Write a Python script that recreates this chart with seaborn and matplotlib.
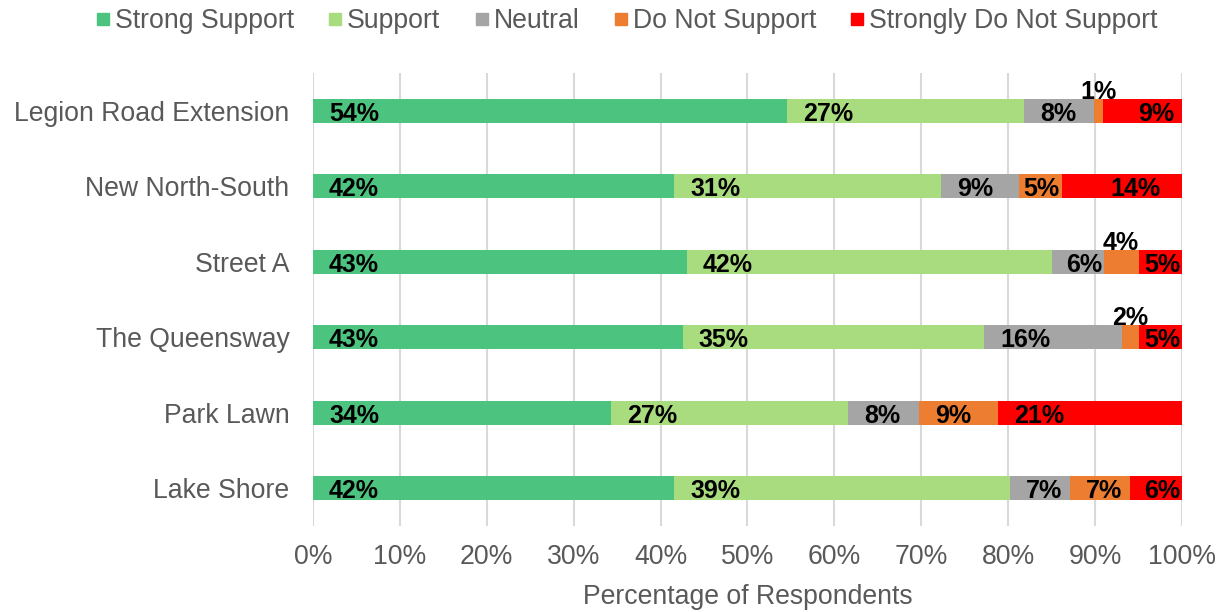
import matplotlib
matplotlib.use("Agg")
import matplotlib.pyplot as plt
from matplotlib.lines import Line2D
from matplotlib import font_manager
import numpy as np
import pandas as pd
import seaborn as sns

# Survey responses per road project (percent of respondents)
projects = ["Legion Road Extension", "New North-South", "Street A",
            "The Queensway", "Park Lawn", "Lake Shore"]
responses = ["Strong Support", "Support", "Neutral",
             "Do Not Support", "Strongly Do Not Support"]
strong_support = [54, 42, 43, 43, 34, 42]
support = [27, 31, 42, 35, 27, 39]
neutral = [8, 9, 6, 16, 8, 7]
do_not_support = [1, 5, 4, 2, 9, 7]
strongly_do_not = [9, 14, 5, 5, 21, 6]
x_ticks = [0, 10, 20, 30, 40, 50, 60, 70, 80, 90, 100]

colors = ["#4CC47F", "#A9DB7F", "#A5A5A5", "#ED7D31", "#FF0000"]
text_grey = "#595959"

sns.set_theme(style="white")
available = {f.name for f in font_manager.fontManager.ttflist}
base_font = "Liberation Sans" if "Liberation Sans" in available else "DejaVu Sans"
plt.rcParams["font.family"] = [base_font, "DejaVu Sans"]

values = np.array([strong_support, support, neutral,
                   do_not_support, strongly_do_not], dtype=float)
shares = values / values.sum(axis=0) * 100
ends = np.cumsum(shares, axis=0)
starts = ends - shares

df = pd.DataFrame({"project": projects})
for i, name in enumerate(responses):
    df[name] = ends[i]

fig = plt.figure(figsize=(12.23, 6.12), dpi=100)
ax = fig.add_axes([313 / 1223, 1 - 526 / 612, 869 / 1223, 453 / 612])

# Stack by drawing cumulative bars from the outermost segment inward
for i in range(len(responses) - 1, -1, -1):
    sns.barplot(data=df, x=responses[i], y="project", order=projects,
                color=colors[i], saturation=1, width=0.32, orient="h",
                ax=ax, zorder=2, linewidth=0)

ax.set_xlim(0, 100)
ax.set_xticks(x_ticks)
ax.set_xticklabels([f"{t}%" for t in x_ticks])
ax.set_ylabel("")
ax.set_xlabel("Percentage of Respondents", fontsize=19.2, color=text_grey,
              labelpad=10)
ax.tick_params(axis="x", length=0, pad=13, labelsize=19.2, labelcolor=text_grey)
ax.tick_params(axis="y", length=0, pad=17, labelsize=19.2, labelcolor=text_grey)
ax.grid(axis="x", color="#D9D9D9", linewidth=1.5, zorder=0)
ax.grid(axis="y", visible=False)
ax.set_axisbelow(True)
for s in ax.spines.values():
    s.set_visible(False)

fig.canvas.draw()
renderer = fig.canvas.get_renderer()
px_per_unit = ax.transData.transform((1, 0))[0] - ax.transData.transform((0, 0))[0]
pad_units = 16 / px_per_unit
label_style = dict(fontsize=18, fontweight="bold", color="black", zorder=4)

# Hand-placed shifts (in pixels) for a couple of labels
nudges = {(0, 4): 19, (1, 4): 33}

for r in range(len(projects)):
    for i in range(len(responses)):
        val = int(values[i, r])
        s0, s1 = starts[i, r], ends[i, r]
        txt = f"{val}%"
        if val < 5:
            ax.text((s0 + s1) / 2, r - 0.16, txt, ha="center",
                    va="baseline", **label_style)
            continue
        t = ax.text(s0 + pad_units, r + 0.13, txt, ha="left",
                    va="baseline", **label_style)
        w = t.get_window_extent(renderer).width / px_per_unit
        x = s0 + pad_units + nudges.get((r, i), 0) / px_per_unit
        if x + w > s1 - 0.2:
            x = s1 - w - 0.2
        t.set_x(x)

handles = [Line2D([], [], marker="s", linestyle="", markersize=9,
                  color=c) for c in colors]
fig.legend(handles, responses, loc="center", ncol=5,
           bbox_to_anchor=(627 / 1223, 1 - 21 / 612), frameon=False,
           fontsize=19.2, labelcolor=text_grey, handlelength=0.5,
           handletextpad=0.2, columnspacing=1.3, borderaxespad=0)

fig.savefig("out.png", dpi=100)
